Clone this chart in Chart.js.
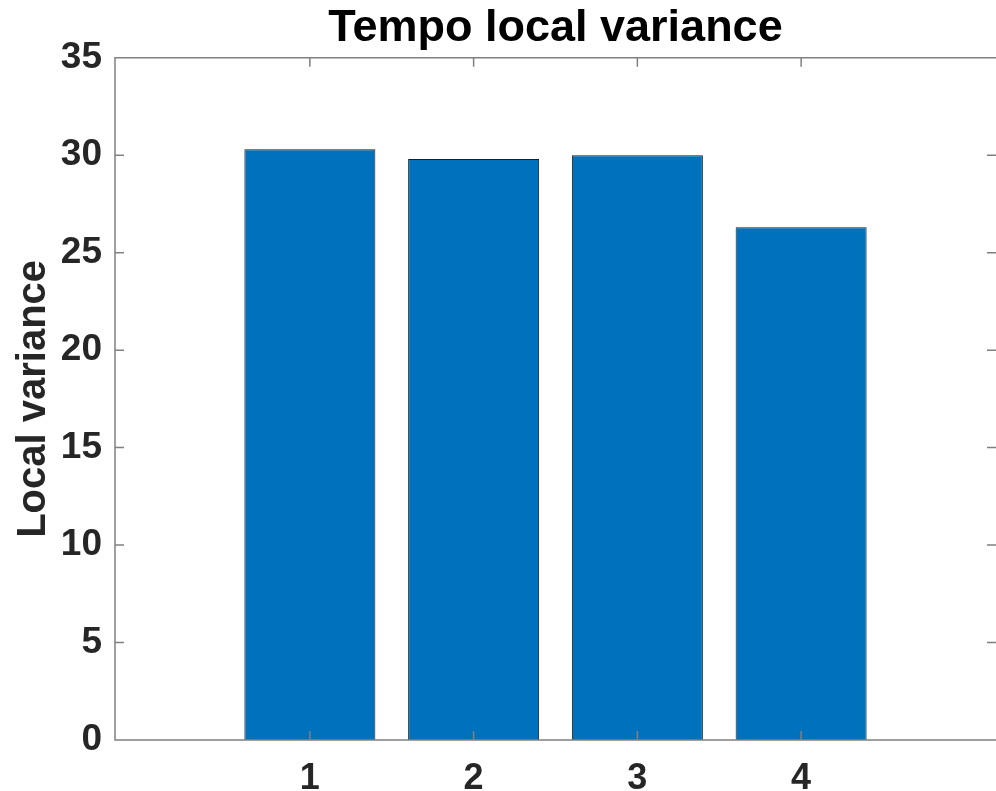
<!DOCTYPE html>
<html>
<head>
<meta charset="utf-8">
<script src="https://cdn.jsdelivr.net/npm/chart.js@4.4.1/dist/chart.umd.min.js"></script>
<style>
  html, body { margin: 0; padding: 0; background: #fff; }
  canvas { display: block; }
</style>
</head>
<body>
<canvas id="barChart" width="996" height="791"></canvas>
<script>
const positions = [1, 2, 3, 4];
const varianceValues = [30.3, 29.8, 30.0, 26.3];
const yTicks = [0, 5, 10, 15, 20, 25, 30, 35];

const fontFamily = '"Liberation Sans", Arial, Helvetica, sans-serif';
const textColor = '#262626';
const axisColor = '#808080';

// MATLAB-style axes with inward ticks; the right spine sits just off the image edge
const boxTicks = {
    id: 'boxTicks',
    afterDatasetsDraw(chart) {
        const { ctx, chartArea: a, scales } = chart;
        const len = 9;
        ctx.save();
        ctx.strokeStyle = axisColor;
        ctx.lineWidth = 1.5;
        ctx.beginPath();
        scales.y.ticks.forEach((t, i) => {
            const y = scales.y.getPixelForTick(i);
            ctx.moveTo(a.left, y); ctx.lineTo(a.left + len, y);
            ctx.moveTo(a.right, y); ctx.lineTo(a.right - len, y);
        });
        scales.x.ticks.forEach((t, i) => {
            const x = scales.x.getPixelForTick(i);
            ctx.moveTo(x, a.bottom); ctx.lineTo(x, a.bottom - len);
            ctx.moveTo(x, a.top); ctx.lineTo(x, a.top + len);
        });
        ctx.moveTo(a.right + 2, a.top); ctx.lineTo(a.left, a.top);
        ctx.lineTo(a.left, a.bottom); ctx.lineTo(a.right + 2, a.bottom);
        ctx.stroke();
        ctx.restore();
    }
};

new Chart(document.getElementById('barChart'), {
    type: 'bar',
    data: {
        datasets: [{
            label: 'Local variance',
            data: positions.map((p, i) => ({ x: p, y: varianceValues[i] })),
            backgroundColor: '#0072BD',
            borderColor: '#1c1c1c',
            borderWidth: 1,
            barPercentage: 0.8,
            categoryPercentage: 1.0
        }]
    },
    options: {
        responsive: false,
        animation: false,
        layout: { padding: { left: 0, right: 0, top: 0, bottom: 0 } },
        plugins: {
            legend: { display: false },
            tooltip: { enabled: false },
            title: {
                display: true,
                text: 'Tempo local variance',
                fullSize: false,
                color: '#000',
                font: { family: fontFamily, size: 45, weight: 'bold', lineHeight: 1.15 },
                padding: { top: 3, bottom: 3 }
            }
        },
        scales: {
            x: {
                type: 'linear',
                offset: false,
                min: -0.19,
                max: 5.19,
                afterBuildTicks(scale) {
                    scale.ticks = positions.map(v => ({ value: v }));
                },
                afterFit(scale) { scale.height = 51; },
                grid: { display: false, drawTicks: false, offset: false },
                border: { display: false },
                ticks: {
                    padding: 17,
                    color: textColor,
                    font: { family: fontFamily, size: 36, weight: 'bold' }
                }
            },
            y: {
                min: 0,
                max: 35,
                afterBuildTicks(scale) {
                    scale.ticks = yTicks.map(v => ({ value: v }));
                },
                afterFit(scale) { scale.width = 115; },
                grid: { display: false, drawTicks: false },
                border: { display: false },
                ticks: {
                    padding: 13,
                    color: textColor,
                    font: { family: fontFamily, size: 37, weight: 'bold' }
                },
                title: {
                    display: true,
                    text: 'Local variance',
                    color: textColor,
                    font: { family: fontFamily, size: 40, weight: 'bold' },
                    padding: { top: 10, bottom: 0 }
                }
            }
        }
    },
    plugins: [boxTicks]
});
</script>
</body>
</html>
